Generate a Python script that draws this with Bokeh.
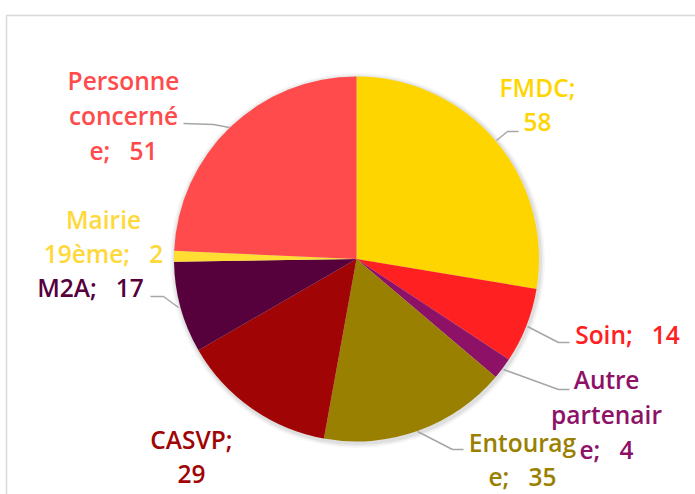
import math
from bokeh.plotting import figure
from bokeh.models import ColumnDataSource, Range1d
from bokeh.core.properties import value
from bokeh.embed import file_html
from bokeh.resources import INLINE

# ---- data ----
categories = ["FMDC", "Soin", "Autre partenaire", "Entourage", "CASVP", "M2A", "Mairie 19ème", "Personne concernée"]
values = [58, 14, 4, 35, 29, 17, 2, 51]
slice_colors = ["#FFD500", "#FF2121", "#8E1168", "#9A8000", "#A00404", "#56003C", "#FFDD33", "#FF4B4B"]
SP = "\u00a0\u00a0\u00a0"
label_texts = ["FMDC;\n58", "Soin;" + SP + "14", "Autre\npartenair\ne;" + SP + "4", "Entourag\ne;" + SP + "35",
               "CASVP;\n29", "M2A;" + SP + "17", "Mairie\n19ème;" + SP + "2", "Personne\nconcerné\ne;" + SP + "51"]
label_colors = ["#FFD500", "#FF2121", "#8E1168", "#9A8000", "#A00404", "#56003C", "#FFD83A", "#FF4B4B"]

W, H = 695, 494
def py(page_y):
    return H - page_y

p = figure(width=W, height=H, output_backend="svg", toolbar_location=None,
           x_range=Range1d(0, W), y_range=Range1d(0, H), min_border=0)
p.axis.visible = False
p.grid.visible = False
p.outline_line_color = None
p.background_fill_color = "white"
p.border_fill_color = "white"

# frame
p.line(x=[6, 6, 700], y=[-10, py(15), py(15)], line_color="#D9D9D9", line_width=1.5)

cx, cy, R = 356, py(258.5), 182.5

# soft shadow
for k, a in [(5, 0.03), (3.5, 0.04), (2, 0.06)]:
    p.circle(x=[cx + 1], y=[cy - 1.5], radius=R + k, fill_color="#000000", fill_alpha=a, line_color=None)

total = sum(values)
starts, ends = [], []
cum = 0
for v in values:
    starts.append(math.pi / 2 - 2 * math.pi * cum / total)
    cum += v
    ends.append(math.pi / 2 - 2 * math.pi * cum / total)

src = ColumnDataSource(dict(cat=categories, val=values, color=slice_colors, start=starts, end=ends))
p.wedge(x=cx, y=cy, radius=R, start_angle="start", end_angle="end", direction="clock",
        fill_color="color", line_color=None, source=src)

# leader lines (layout)
leaders = [
    ([518, 507, 496], [131, 131, 140]),
    ([527, 558, 569], [326, 342, 342]),
    ([503, 558, 569], [369, 389, 389]),
    ([417, 452, 463], [431, 449, 449]),
    ([150, 163, 178], [296, 296, 307]),
    ([183, 213, 229], [123, 124, 127]),
]
for xs, ys in leaders:
    p.line(x=xs, y=[py(v) for v in ys], line_color="#A6A6A6", line_width=1.5)

# label positions (layout, page coords)
lx = [537, 627, 606, 522, 191, 90, 103, 123]
ly = [104, 334, 414, 459, 456, 287, 236, 115]
lsrc = ColumnDataSource(dict(x=lx, y=[py(v) for v in ly], text=label_texts, color=label_colors))
p.text(x="x", y="y", text="text", text_color="color", source=lsrc,
       text_font=value("Open Sans SemiBold, Open Sans"), text_font_size="24.5px",
       text_align="center", text_baseline="middle", text_line_height=1.05)

open("out.html", "w").write(file_html(p, INLINE))
